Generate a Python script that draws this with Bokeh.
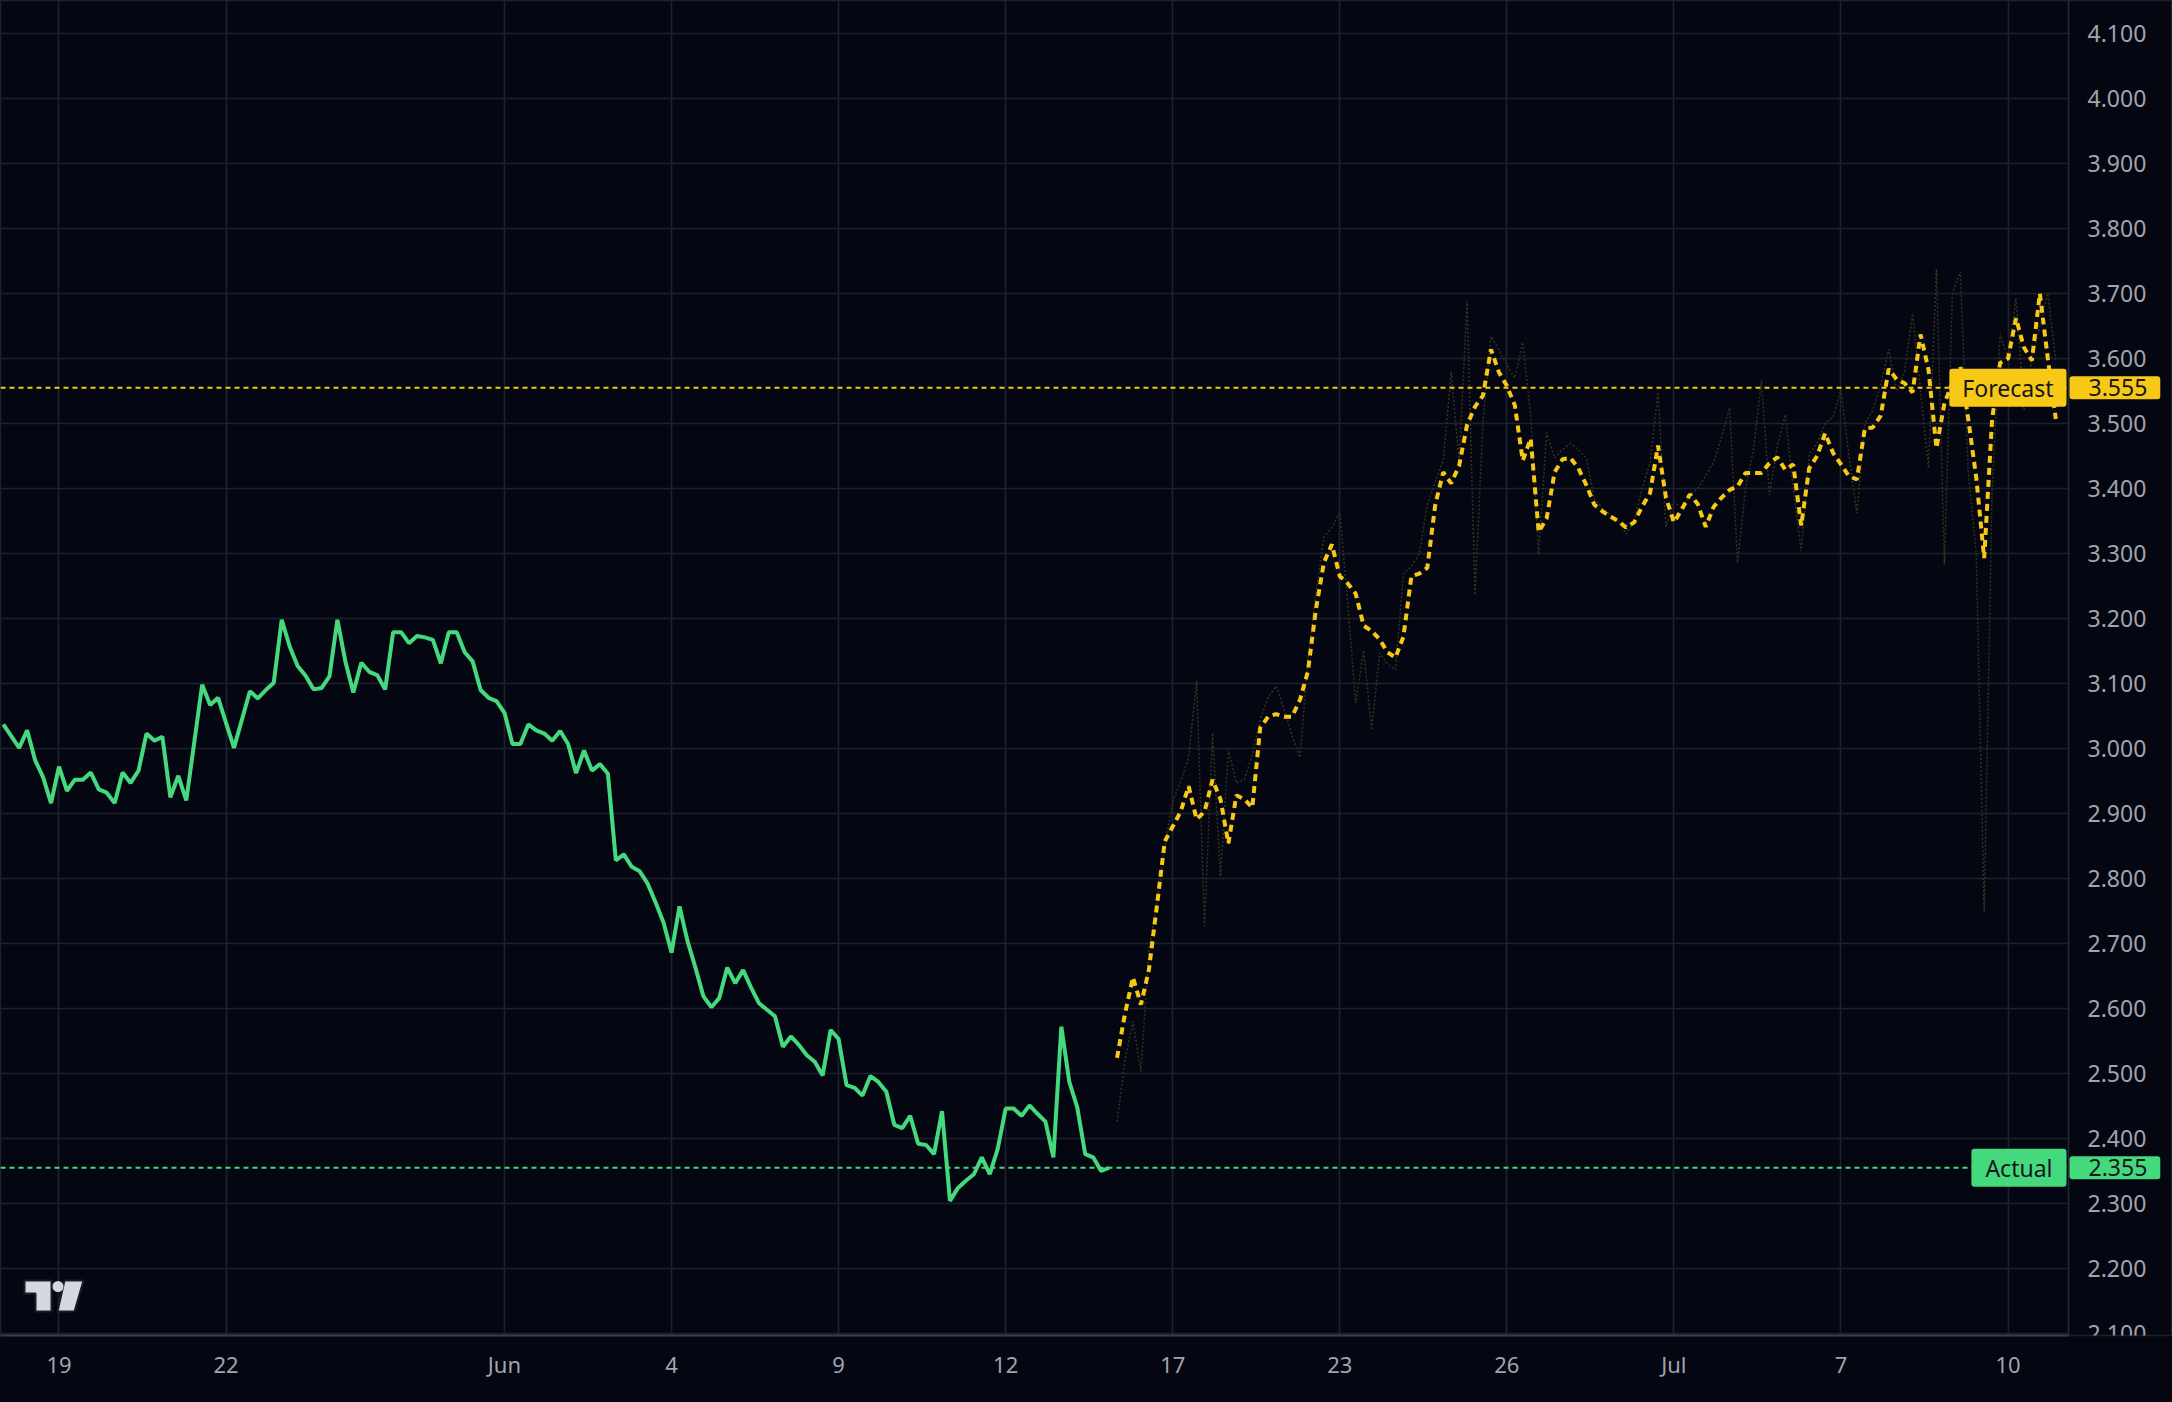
from bokeh.plotting import figure
from bokeh.models import FixedTicker, Span, Label, Range1d
from bokeh.embed import file_html
from bokeh.resources import INLINE

# ---------------- data ----------------
actual_x = list(range(-7, 17)) + [18, 19, 20, 22] + list(range(24, 133))
actual_y = [
    3.037, 3.019, 3.001, 3.028, 2.982, 2.956, 2.916, 2.972, 2.935, 2.952, 2.952, 2.963,
    2.937, 2.932, 2.916, 2.963, 2.947, 2.966, 3.023, 3.012, 3.018, 2.925, 2.958, 2.920,
    3.098, 3.067, 3.078, 3.001,
    3.088, 3.077, 3.090, 3.101, 3.198, 3.157, 3.127, 3.112, 3.091, 3.093, 3.111, 3.198,
    3.134, 3.086, 3.132, 3.118, 3.113, 3.091, 3.179, 3.179, 3.162, 3.173, 3.171, 3.167,
    3.131, 3.179, 3.179, 3.148, 3.134, 3.090, 3.078, 3.073, 3.055, 3.007, 3.007, 3.037,
    3.028, 3.023, 3.012, 3.027, 3.007, 2.962, 2.997, 2.966, 2.976, 2.961,
    2.828, 2.837, 2.818, 2.811, 2.792, 2.763, 2.732, 2.686, 2.757, 2.704, 2.663, 2.619,
    2.602, 2.616, 2.663, 2.639, 2.659, 2.632, 2.608, 2.598, 2.588, 2.541, 2.557, 2.544,
    2.528, 2.518, 2.497, 2.567, 2.553, 2.482, 2.478, 2.466, 2.496, 2.487, 2.472, 2.421,
    2.416, 2.435, 2.392, 2.390, 2.376, 2.442, 2.304, 2.324, 2.335, 2.345, 2.371, 2.345,
    2.384, 2.446, 2.446, 2.435, 2.451, 2.438, 2.426, 2.371, 2.572, 2.487, 2.448, 2.376,
    2.371, 2.350, 2.355,
]

forecast_y = [
    2.524, 2.592, 2.648, 2.606, 2.659, 2.757, 2.857, 2.880, 2.903, 2.942, 2.891, 2.903,
    2.952, 2.922, 2.854, 2.928, 2.922, 2.909, 3.032, 3.049, 3.053, 3.049, 3.049, 3.075,
    3.119, 3.214, 3.286, 3.314, 3.265, 3.254, 3.238, 3.189, 3.181, 3.168, 3.148, 3.140,
    3.172, 3.265, 3.269, 3.278, 3.375, 3.425, 3.408, 3.435, 3.498, 3.526, 3.543, 3.614,
    3.579, 3.558, 3.528, 3.443, 3.477, 3.333, 3.354, 3.425, 3.445, 3.447, 3.431, 3.405,
    3.375, 3.365, 3.357, 3.350,
    3.340, 3.348, 3.372, 3.393, 3.466, 3.386, 3.348, 3.368, 3.391, 3.376, 3.341, 3.372,
    3.386, 3.398, 3.403, 3.424, 3.424, 3.424, 3.439, 3.448, 3.429, 3.437, 3.343, 3.431,
    3.450, 3.485, 3.455, 3.437, 3.419, 3.414, 3.492, 3.494, 3.512, 3.584, 3.568, 3.562,
    3.548, 3.637, 3.583, 3.462, 3.531, 3.562, 3.588, 3.507, 3.417, 3.293, 3.507, 3.593,
    3.600, 3.662, 3.617, 3.597, 3.700, 3.600, 3.507,
]
forecast_x = list(range(133, 133 + len(forecast_y)))

ghost_y = [
    2.426, 2.52, 2.58, 2.503, 2.69, 2.76, 2.85, 2.918, 2.95, 2.986, 3.104, 2.727,
    3.024, 2.803, 2.998, 2.947, 2.952, 2.99, 3.045, 3.079, 3.096, 3.06, 3.02, 2.986,
    3.138, 3.24, 3.325, 3.34, 3.363, 3.223, 3.07, 3.151, 3.028, 3.147, 3.13, 3.121,
    3.269, 3.28, 3.30, 3.375, 3.41, 3.443, 3.579, 3.44, 3.689, 3.236, 3.503, 3.634,
    3.613, 3.59, 3.570, 3.625, 3.511, 3.299, 3.486, 3.447, 3.46, 3.469, 3.46, 3.447,
    3.384, 3.37, 3.36, 3.350,
    3.33, 3.35, 3.40, 3.44, 3.548, 3.341, 3.38, 3.37, 3.39, 3.40, 3.42, 3.44,
    3.48, 3.524, 3.286, 3.40, 3.46, 3.566, 3.390, 3.466, 3.514, 3.40, 3.303, 3.452,
    3.47, 3.50, 3.51, 3.552, 3.45, 3.362, 3.50, 3.52, 3.56, 3.614, 3.55, 3.58,
    3.669, 3.55, 3.431, 3.738, 3.283, 3.70, 3.734, 3.424, 3.30, 2.748, 3.40, 3.638,
    3.60, 3.693, 3.521, 3.60, 3.65, 3.70, 3.597,
]
ghost_x = list(range(133, 133 + len(ghost_y)))

x_tick_bars = [0, 21, 56, 77, 98, 119, 140, 161, 182, 203, 224, 245]
x_tick_labels = ["19", "22", "Jun", "4", "9", "12", "17", "23", "26", "Jul", "7", "10"]
y_ticks = [2.1, 2.2, 2.3, 2.4, 2.5, 2.6, 2.7, 2.8, 2.9, 3.0, 3.1, 3.2, 3.3, 3.4, 3.5,
           3.6, 3.7, 3.8, 3.9, 4.0, 4.1]
y_tick_labels = ["%.3f" % v for v in y_ticks]

actual_level = 2.355
forecast_level = 3.555

# ---------------- style ----------------
BG = "#040712"
GRID = "#1c212c"
GREEN = "#45d97e"
YELLOW = "#f7c815"
TEXT = "#a1a4ad"
FONT = "Noto Sans"

W, H = 2172, 1402
BOTTOM = 67
PLOT_W = 2068            # width of the price pane; the price scale sits to its right
FH = H - BOTTOM
X_LO, X_AXIS = -7.35, 252.6      # bar index at left edge / at the price-scale line
X_HI = X_LO + (X_AXIS - X_LO) * W / PLOT_W
Y_LO, Y_HI = 2.0969, 4.1508

p = figure(
    width=W, height=H,
    x_range=Range1d(X_LO, X_HI), y_range=Range1d(Y_LO, Y_HI),
    y_axis_location=None,
    output_backend="svg", toolbar_location=None,
    min_border_left=0, min_border_top=0, min_border_right=0,
    min_border_bottom=BOTTOM,
    background_fill_color=BG, border_fill_color=BG,
    outline_line_color=GRID, outline_line_width=1.5,
)

# vertical grid from the time axis
p.xgrid.grid_line_color = GRID
p.xgrid.grid_line_width = 1.7
p.ygrid.visible = False

# horizontal grid lines of the price pane
p.segment(x0=[X_LO] * len(y_ticks), x1=[X_AXIS] * len(y_ticks), y0=y_ticks, y1=y_ticks,
          line_color=GRID, line_width=1.7)

# time axis
xa = p.xaxis[0]
xa.ticker = FixedTicker(ticks=x_tick_bars)
xa.major_label_overrides = {b: t for b, t in zip(x_tick_bars, x_tick_labels)}
xa.bounds = (X_LO, X_AXIS)
xa.axis_line_color = "#3a3f4b"
xa.axis_line_width = 2
xa.major_tick_line_color = None
xa.minor_tick_line_color = None
xa.major_label_text_color = TEXT
xa.major_label_text_font = FONT
xa.major_label_text_font_size = "22px"
xa.major_label_standoff = 7

# price scale: border line + labels
p.add_layout(Span(location=X_AXIS, dimension="height", line_color="#262b36", line_width=1.5))
p.text(x=[X_AXIS] * len(y_ticks), y=y_ticks, text=y_tick_labels, x_offset=19,
       text_align="left", text_baseline="middle", text_color=TEXT,
       text_font={"value": FONT}, text_font_size="23px")

# series
p.line(ghost_x, ghost_y, line_color="#35321f", line_width=1.5, line_dash="2 2")
p.line(forecast_x, forecast_y, line_color=YELLOW, line_width=4, line_dash="7 5")
p.line(actual_x, actual_y, line_color=GREEN, line_width=4)

# level lines (price pane only)
for lvl, col in ((forecast_level, YELLOW), (actual_level, GREEN)):
    p.segment(x0=[X_LO], x1=[X_AXIS], y0=[lvl], y1=[lvl], line_color=col,
              line_width=2, line_dash="5 4")


def tag(text, v, color, anchor, xoff, lr):
    return Label(
        x=X_AXIS, y=v, x_offset=xoff, text=text,
        text_font=FONT, text_font_size="23px", text_color="#15171d",
        background_fill_color=color, border_radius=3,
        padding=dict(left=lr[0], right=lr[1], top=3, bottom=3),
        anchor=anchor, level="overlay",
    )


p.add_layout(tag("Forecast", forecast_level, YELLOW, "center_right", -2, (13, 13)))
p.add_layout(tag("Actual", actual_level, GREEN, "center_right", -2, (14, 14)))
p.add_layout(tag(f"{forecast_level:.3f}", forecast_level, YELLOW, "center_left", 1, (19, 13)))
p.add_layout(tag(f"{actual_level:.3f}", actual_level, GREEN, "center_left", 1, (19, 13)))


# TradingView-like logo (decoration, drawn in pixel space of the frame)
def px_x(px):
    return X_LO + px / W * (X_HI - X_LO)


def px_y(py):
    return Y_HI - py / FH * (Y_HI - Y_LO)


logo_shapes = [
    [(24, 1280), (51, 1280), (51, 1311), (35, 1311), (35, 1293), (24, 1293)],
    [(64, 1280), (83, 1280), (74, 1311), (57, 1311)],
]
p.patches([[px_x(a) for a, b in s] for s in logo_shapes],
          [[px_y(b) for a, b in s] for s in logo_shapes],
          fill_color="#d6d8de", line_color="#1a1e2a", line_width=2)
p.ellipse(x=[px_x(57.5)], y=[px_y(1286)], width=[11 / W * (X_HI - X_LO)],
          height=[11 / FH * (Y_HI - Y_LO)], fill_color="#d6d8de", line_color=None)

html = file_html(p, INLINE)
html = html.replace("</head>", "<style>html, body { background-color: %s; }</style></head>" % BG, 1)
open("out.html", "w").write(html)
